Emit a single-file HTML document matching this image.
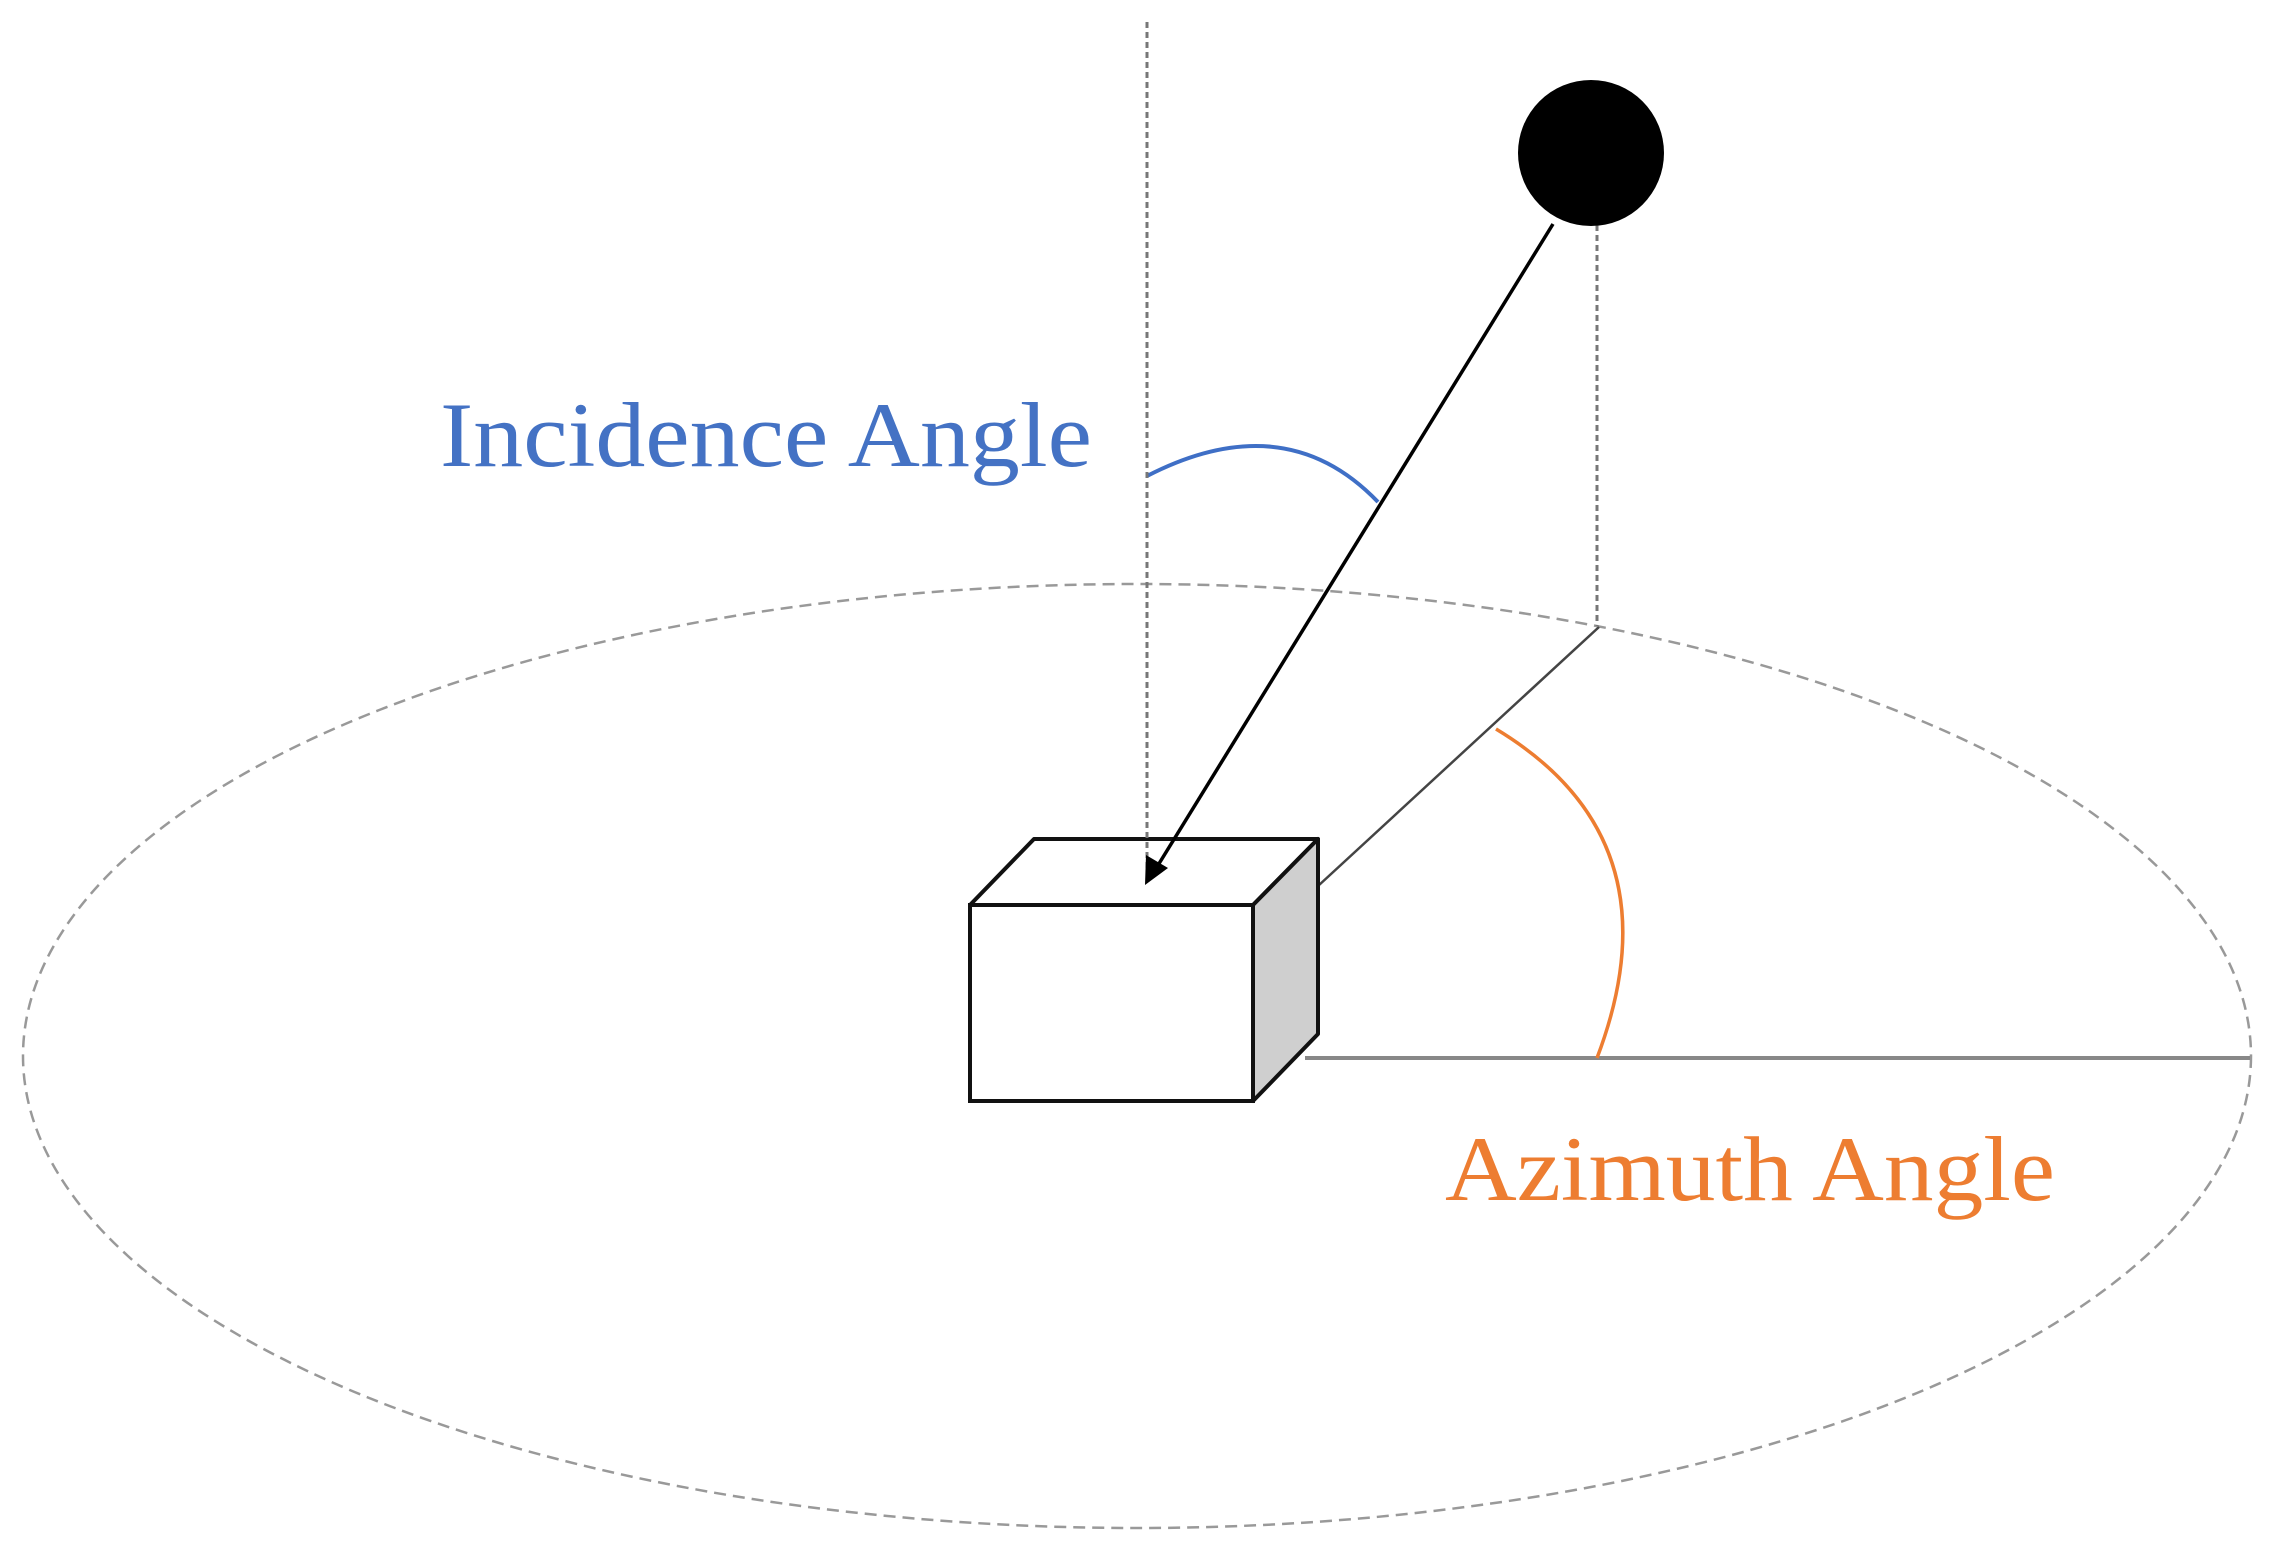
<!DOCTYPE html>
<html><head><meta charset="utf-8"><style>html,body{margin:0;padding:0;background:#fff}svg{display:block}</style></head>
<body>
<svg width="2277" height="1557" viewBox="0 0 2277 1557" xmlns="http://www.w3.org/2000/svg">
<!-- ellipse -->
<ellipse cx="1137" cy="1056" rx="1114" ry="472" fill="none" stroke="#999" stroke-width="2.5" stroke-dasharray="12,7"/>
<line x1="1597" y1="225" x2="1597" y2="626" stroke="#777" stroke-width="3" stroke-dasharray="6,4"/>
<!-- sun -->
<circle cx="1591" cy="153" r="73" fill="#000"/>
<!-- incidence arc -->
<path d="M1147,476 Q1285,405 1378,502" fill="none" stroke="#3f6fc6" stroke-width="4"/>
<!-- azimuth lines -->
<line x1="1318" y1="886" x2="1599" y2="627" stroke="#444" stroke-width="2.5"/>
<line x1="1305" y1="1058" x2="2250" y2="1058" stroke="#888" stroke-width="4"/>
<path d="M1496,729 Q1680,840 1597,1058" fill="none" stroke="#ed7d31" stroke-width="3.5"/>
<!-- box -->
<polygon points="970,905 1034,839 1318,839 1253,905" fill="#fff" stroke="#111" stroke-width="4" stroke-linejoin="round"/>
<polygon points="1253,905 1318,839 1318,1034 1253,1101" fill="#cfcfcf" stroke="#111" stroke-width="4" stroke-linejoin="round"/>
<rect x="970" y="905" width="283" height="196" fill="#fff" stroke="#111" stroke-width="4"/>
<!-- vertical dotted -->
<line x1="1147" y1="22" x2="1147" y2="872" stroke="#777" stroke-width="3" stroke-dasharray="6,4"/>
<!-- arrow -->
<line x1="1553" y1="224" x2="1152" y2="875" stroke="#000" stroke-width="3.5"/>
<polygon points="1145,885 1146,855 1168,868" fill="#000"/>
<!-- labels -->
<text x="440" y="466" font-family="Liberation Serif, serif" font-size="92" fill="#4472c4" textLength="652" lengthAdjust="spacingAndGlyphs">Incidence Angle</text>
<text x="1445" y="1200" font-family="Liberation Serif, serif" font-size="92" fill="#ed7d31" textLength="610" lengthAdjust="spacingAndGlyphs">Azimuth Angle</text>
</svg>
</body></html>
